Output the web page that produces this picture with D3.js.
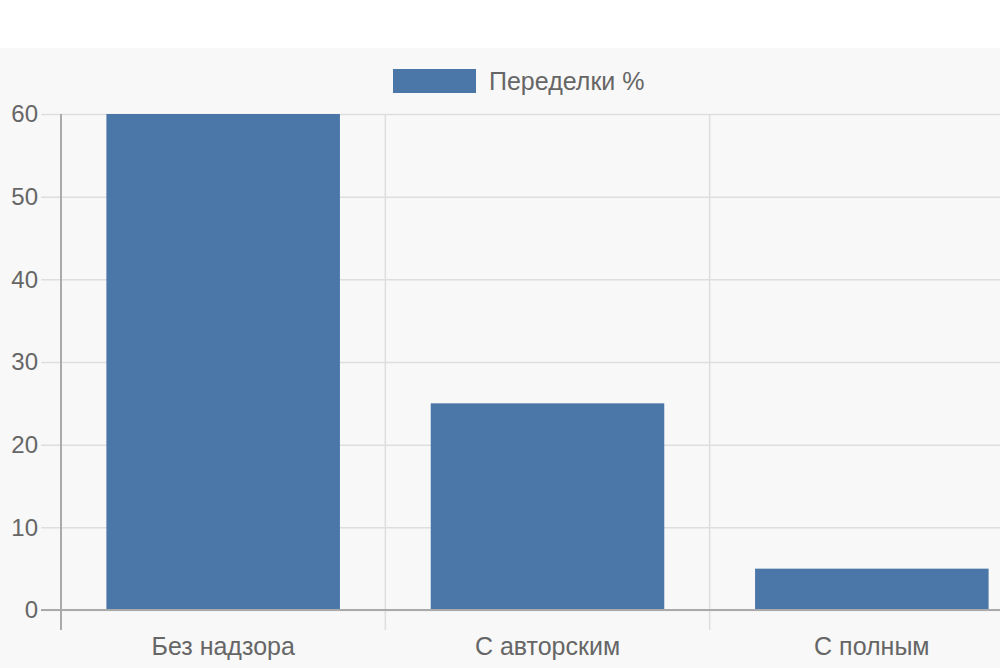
<!DOCTYPE html>
<html>
<head>
<meta charset="utf-8">
<script src="https://cdn.jsdelivr.net/npm/d3@7"></script>
<style>
  html, body { margin: 0; padding: 0; background: #fff; overflow: hidden; }
  text { font-family: "Liberation Sans", Arial, Helvetica, sans-serif; }
</style>
</head>
<body>
<div id="chart"></div>
<script>
// data
const categories = ["Без надзора", "С авторским", "С полным"];
const values = [60, 25, 5];
const seriesName = "Переделки %";
const yTicks = [0, 10, 20, 30, 40, 50, 60];

const W = 1000, H = 668;
const barColor = "#4a76a8";
const textColor = "#666";
const gridColor = "#dedede";
const axisColor = "#aaa";

const plot = { left: 61, right: 1034, top: 114, bottom: 610 };
const tickLen = 20;

const svg = d3.select("#chart").append("svg")
    .attr("width", W)
    .attr("height", H);

// canvas background
svg.append("rect")
    .attr("x", 0).attr("y", 48)
    .attr("width", W).attr("height", H - 48)
    .attr("fill", "#f8f8f8");

const x = d3.scaleBand()
    .domain(categories)
    .range([plot.left, plot.right])
    .paddingInner(0)
    .paddingOuter(0);

const y = d3.scaleLinear()
    .domain([0, 60])
    .range([plot.bottom, plot.top]);

// horizontal grid + y tick marks
const yAxis = d3.axisLeft(y)
    .tickValues(yTicks)
    .tickSize(-(plot.right - plot.left))
    .tickPadding(0);

const yg = svg.append("g")
    .attr("transform", `translate(${plot.left},0)`)
    .call(yAxis);
yg.select(".domain").remove();
yg.selectAll(".tick line")
    .attr("x1", -tickLen)
    .attr("stroke", gridColor)
    .attr("stroke-width", 1.5);
yg.selectAll(".tick text")
    .attr("x", -tickLen - 3)
    .attr("fill", textColor)
    .style("font-size", "24px");

// vertical grid lines at band boundaries
const boundaries = categories.map(c => x(c)).concat([plot.right]);
svg.append("g")
    .selectAll("line")
    .data(boundaries.slice(1))
    .join("line")
    .attr("x1", d => d).attr("x2", d => d)
    .attr("y1", plot.top).attr("y2", plot.bottom + tickLen)
    .attr("stroke", gridColor)
    .attr("stroke-width", 1.5);

// bars
const barW = x.bandwidth() * 0.72;
svg.append("g")
    .selectAll("rect")
    .data(values)
    .join("rect")
    .attr("x", (d, i) => x(categories[i]) + (x.bandwidth() - barW) / 2)
    .attr("y", d => y(d))
    .attr("width", barW)
    .attr("height", d => y(0) - y(d))
    .attr("fill", barColor);

// axis lines
svg.append("line")
    .attr("x1", plot.left).attr("x2", plot.left)
    .attr("y1", plot.top).attr("y2", plot.bottom + tickLen)
    .attr("stroke", axisColor).attr("stroke-width", 2);
svg.append("line")
    .attr("x1", plot.left - tickLen).attr("x2", plot.right)
    .attr("y1", y(0)).attr("y2", y(0))
    .attr("stroke", axisColor).attr("stroke-width", 2);

// x labels
svg.append("g")
    .selectAll("text")
    .data(categories)
    .join("text")
    .attr("x", d => x(d) + x.bandwidth() / 2)
    .attr("y", 655)
    .attr("text-anchor", "middle")
    .attr("fill", textColor)
    .style("font-size", "25px")
    .text(d => d);

// legend
const legend = svg.append("g");
legend.append("rect")
    .attr("x", 393).attr("y", 69)
    .attr("width", 83).attr("height", 24)
    .attr("fill", barColor);
legend.append("text")
    .attr("x", 489).attr("y", 81)
    .attr("dy", "0.35em")
    .attr("fill", textColor)
    .style("font-size", "25px")
    .text(seriesName);
</script>
</body>
</html>
